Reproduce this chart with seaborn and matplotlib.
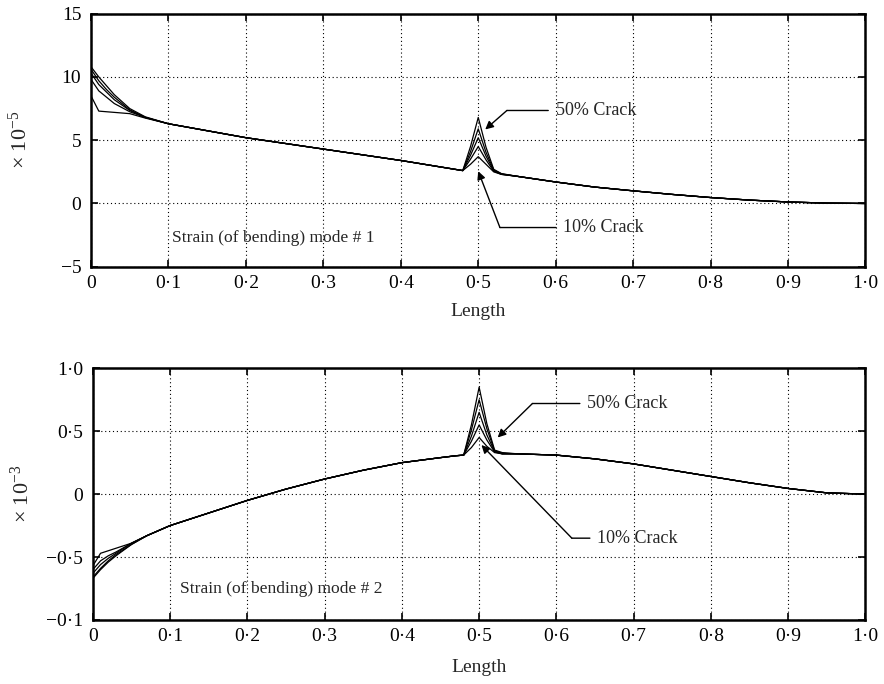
import matplotlib
matplotlib.use("Agg")
import matplotlib.pyplot as plt
import seaborn as sns
import pandas as pd

# ---------------- data ----------------
x_pos = [0, 0.01, 0.02, 0.03, 0.05, 0.07, 0.1, 0.15, 0.2, 0.25, 0.3, 0.35, 0.4, 0.45,
         0.47, 0.48, 0.49, 0.5, 0.51, 0.52, 0.53, 0.55, 0.6, 0.65, 0.7, 0.75, 0.8,
         0.85, 0.9, 0.95, 1.0]
cracks = ["10%", "20%", "30%", "40%", "50%"]

# mode 1 strain (x 1e-5)
m1_10 = [10.8, 10.0, 9.3, 8.6, 7.5, 6.85, 6.3, 5.75, 5.2, 4.75, 4.3, 3.85, 3.4, 2.9,
         2.7, 2.6, 3.1, 3.7, 3.1, 2.5, 2.3, 2.15, 1.7, 1.3, 1.0, 0.72, 0.47, 0.27, 0.12, 0.03, 0.0]
m1_20 = [10.6, 9.7, 9.0, 8.4, 7.4, 6.8, 6.3, 5.75, 5.2, 4.75, 4.3, 3.85, 3.4, 2.9,
         2.7, 2.6, 3.5, 4.5, 3.45, 2.55, 2.3, 2.15, 1.7, 1.3, 1.0, 0.72, 0.47, 0.27, 0.12, 0.03, 0.0]
m1_30 = [10.3, 9.4, 8.8, 8.2, 7.35, 6.8, 6.3, 5.75, 5.2, 4.75, 4.3, 3.85, 3.4, 2.9,
         2.7, 2.6, 3.8, 5.2, 3.75, 2.6, 2.32, 2.15, 1.7, 1.3, 1.0, 0.72, 0.47, 0.27, 0.12, 0.03, 0.0]
m1_40 = [9.8, 8.9, 8.4, 7.9, 7.25, 6.8, 6.3, 5.75, 5.2, 4.75, 4.3, 3.85, 3.4, 2.9,
         2.7, 2.6, 4.1, 5.9, 4.05, 2.65, 2.34, 2.15, 1.7, 1.3, 1.0, 0.72, 0.47, 0.27, 0.12, 0.03, 0.0]
m1_50 = [8.5, 7.3, 7.25, 7.2, 7.1, 6.75, 6.3, 5.75, 5.2, 4.75, 4.3, 3.85, 3.4, 2.9,
         2.7, 2.6, 4.5, 6.8, 4.45, 2.7, 2.36, 2.15, 1.7, 1.3, 1.0, 0.72, 0.47, 0.27, 0.12, 0.03, 0.0]

# mode 2 strain (x 1e-3)
m2_10 = [-0.67, -0.60, -0.54, -0.49, -0.40, -0.33, -0.25, -0.15, -0.05, 0.04, 0.12, 0.19, 0.25, 0.29,
         0.305, 0.31, 0.37, 0.45, 0.38, 0.33, 0.32, 0.32, 0.31, 0.28, 0.24, 0.19, 0.14, 0.09, 0.045, 0.01, 0.0]
m2_20 = [-0.66, -0.59, -0.53, -0.48, -0.40, -0.33, -0.25, -0.15, -0.05, 0.04, 0.12, 0.19, 0.25, 0.29,
         0.305, 0.31, 0.42, 0.55, 0.43, 0.335, 0.32, 0.32, 0.31, 0.28, 0.24, 0.19, 0.14, 0.09, 0.045, 0.01, 0.0]
m2_30 = [-0.63, -0.56, -0.51, -0.47, -0.39, -0.33, -0.25, -0.15, -0.05, 0.04, 0.12, 0.19, 0.25, 0.29,
         0.305, 0.31, 0.46, 0.65, 0.47, 0.34, 0.32, 0.32, 0.31, 0.28, 0.24, 0.19, 0.14, 0.09, 0.045, 0.01, 0.0]
m2_40 = [-0.60, -0.53, -0.49, -0.46, -0.39, -0.33, -0.25, -0.15, -0.05, 0.04, 0.12, 0.19, 0.25, 0.29,
         0.305, 0.31, 0.51, 0.75, 0.52, 0.345, 0.325, 0.32, 0.31, 0.28, 0.24, 0.19, 0.14, 0.09, 0.045, 0.01, 0.0]
m2_50 = [-0.57, -0.47, -0.45, -0.43, -0.39, -0.33, -0.25, -0.15, -0.05, 0.04, 0.12, 0.19, 0.25, 0.29,
         0.305, 0.31, 0.55, 0.85, 0.56, 0.35, 0.33, 0.32, 0.31, 0.28, 0.24, 0.19, 0.14, 0.09, 0.045, 0.01, 0.0]

x_ticks = [0, 0.1, 0.2, 0.3, 0.4, 0.5, 0.6, 0.7, 0.8, 0.9, 1.0]
x_ticklabels = ["0", "0·1", "0·2", "0·3", "0·4", "0·5", "0·6", "0·7", "0·8", "0·9", "1·0"]
y1_ticks = [-5, 0, 5, 10, 15]
y1_ticklabels = ["\u22125", "0", "5", "10", "15"]
y2_ticks = [-1.0, -0.5, 0, 0.5, 1.0]
y2_ticklabels = ["\u22120·1", "\u22120·5", "0", "0·5", "1·0"]

# ---------------- style ----------------
sns.set_theme(style="ticks")
plt.rcParams["font.family"] = ["Liberation Serif", "DejaVu Serif"]
plt.rcParams["mathtext.fontset"] = "custom"
plt.rcParams["mathtext.rm"] = "Liberation Serif"
plt.rcParams["mathtext.it"] = "Liberation Serif:italic"

fig = plt.figure(figsize=(8.84, 6.84), dpi=100)
ax1 = fig.add_axes([0.103, 0.610, 0.876, 0.370])
ax2 = fig.add_axes([0.105, 0.0936, 0.874, 0.368])


def long_df(series_list):
    rows = []
    for name, vals in zip(cracks, series_list):
        for xv, yv in zip(x_pos, vals):
            rows.append({"x": xv, "y": yv, "crack": name})
    return pd.DataFrame(rows)


df1 = long_df([m1_10, m1_20, m1_30, m1_40, m1_50])
df2 = long_df([m2_10, m2_20, m2_30, m2_40, m2_50])

for ax, df in ((ax1, df1), (ax2, df2)):
    sns.lineplot(data=df, x="x", y="y", hue="crack", palette=["black"] * 5,
                 estimator=None, sort=False, legend=False, linewidth=0.9, ax=ax)


def style_axis(ax, yticks, yticklabels, ylim, ylabel):
    ax.set_xlim(0, 1)
    ax.set_ylim(*ylim)
    ax.set_xticks(x_ticks)
    ax.set_xticklabels(x_ticklabels)
    ax.set_yticks(yticks)
    ax.set_yticklabels(yticklabels)
    ax.grid(True, linestyle=(0, (1, 2.5)), color="black", linewidth=0.8)
    ax.tick_params(direction="in", length=5, width=1.2, top=True, right=True,
                   labelsize=14, colors="black")
    ax.tick_params(axis="x", pad=6)
    ax.tick_params(axis="y", pad=7)
    for s in ax.spines.values():
        s.set_linewidth(1.8)
        s.set_color("black")
        s.set_visible(True)
    ax.set_xlabel("Length", fontsize=14)
    ax.set_ylabel(ylabel, fontsize=16)
    ax.xaxis.set_label_coords(0.5, -0.145)
    ax.yaxis.set_label_coords(-0.076, 0.5)


style_axis(ax1, y1_ticks, y1_ticklabels, (-5, 15), r"$\times\ 10^{-5}$")
style_axis(ax2, y2_ticks, y2_ticklabels, (-1, 1), r"$\times\ 10^{-3}$")
ax2.xaxis.set_label_coords(0.5, -0.155)

# annotations
def crack_note(ax, text, text_xy, corner_xy, tip_xy):
    ax.annotate(text, xy=corner_xy, xytext=text_xy, fontsize=13, va="center", ha="left",
                arrowprops=dict(arrowstyle="-", color="black", lw=1.0,
                                shrinkA=3, shrinkB=0))
    ax.annotate("", xy=tip_xy, xytext=corner_xy,
                arrowprops=dict(arrowstyle="-|>", color="black", lw=1.0,
                                mutation_scale=12, shrinkA=0, shrinkB=0))


crack_note(ax1, "50% Crack", (0.60, 7.35), (0.537, 7.35), (0.509, 5.85))
crack_note(ax1, "10% Crack", (0.61, -1.9), (0.528, -1.9), (0.500, 2.55))
crack_note(ax2, "50% Crack", (0.64, 0.72), (0.569, 0.72), (0.524, 0.45))
crack_note(ax2, "10% Crack", (0.653, -0.35), (0.620, -0.35), (0.503, 0.39))

ax1.text(0.105, -2.7, "Strain (of bending) mode # 1", fontsize=12.6, va="center", ha="left")
ax2.text(0.113, -0.75, "Strain (of bending) mode # 2", fontsize=12.6, va="center", ha="left")

fig.savefig("out.png", dpi=100, facecolor="white")
